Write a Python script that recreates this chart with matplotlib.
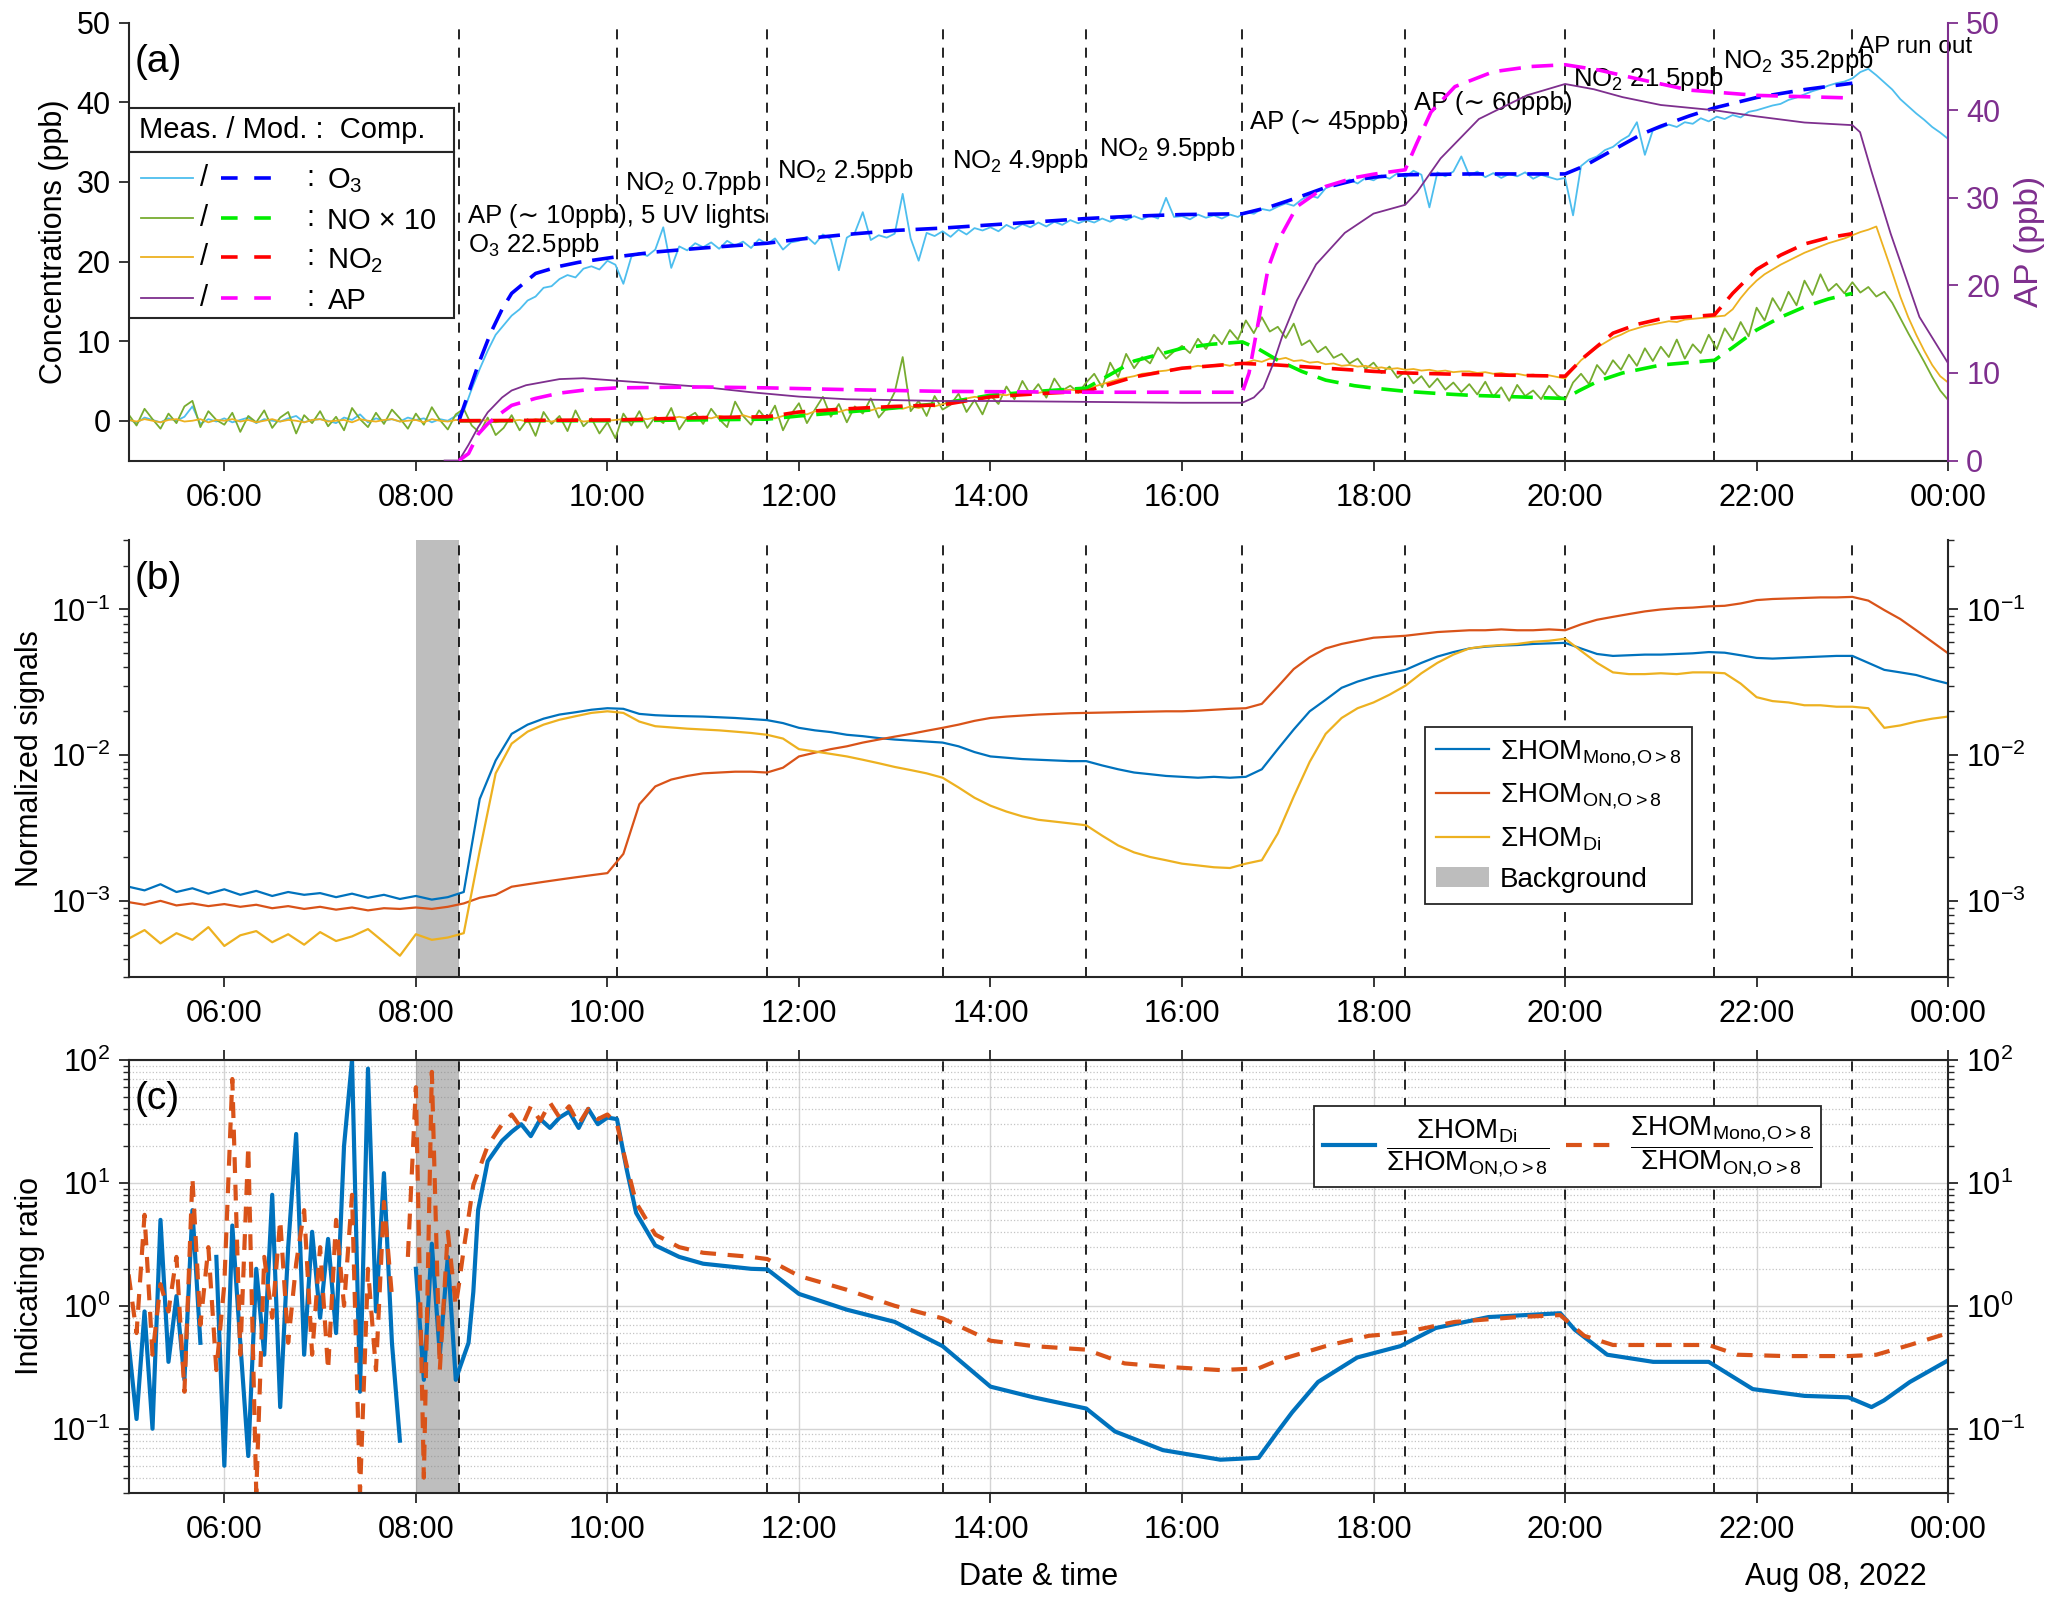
#!/usr/bin/env python3
"""Chamber experiment overview: gas-phase concentrations, HOM signals and ratios."""

import matplotlib

matplotlib.use("Agg")
import matplotlib.pyplot as plt
import numpy as np
from matplotlib.lines import Line2D
from matplotlib.patches import Patch, Rectangle
from matplotlib.ticker import FixedLocator, LogLocator, NullFormatter

plt.rcParams["font.family"] = ["Liberation Sans", "DejaVu Sans"]
plt.rcParams["mathtext.fontset"] = "custom"
plt.rcParams["mathtext.rm"] = "Liberation Sans"
plt.rcParams["mathtext.it"] = "Liberation Sans:italic"
plt.rcParams["mathtext.bf"] = "Liberation Sans:bold"
plt.rcParams["mathtext.default"] = "regular"

nan = np.nan

# time axis in hours of the day (5-min and 10-min sampling)
T5 = 5 + np.arange(229) / 12
T10 = 5 + np.arange(115) / 6

XTICKS = [6, 8, 10, 12, 14, 16, 18, 20, 22, 24]
XTICK_LABELS = ["06:00", "08:00", "10:00", "12:00", "14:00", "16:00",
                "18:00", "20:00", "22:00", "00:00"]
STAGE_TIMES = [8.45, 10.1, 11.67, 13.5, 15.0, 16.63, 18.33, 20.0, 21.56, 23.0]
BACKGROUND = (8.0, 8.45)

# ---- panel (a): measured (5-min) -------------------------------------------
o3_meas = [
    0.2, -0.3, 0.4, 0.1, -0.2, 0.3, 0.0, 0.5, 1.8, -0.4, 0.2, -0.1,
    0.3, -0.2, 0.1, 0.4, -0.3, 0.2, 0.0, -0.1, 0.3, 0.6, -0.2, 0.1,
    0.2, 0.0, -0.3, 0.4, 0.1, 0.8, -0.2, 0.3, 0.0, 0.2, -0.1, 0.4,
    0.1, 0.3, -0.2, 0.2, 0.0, 0.6, 1.2, 4.0, 6.5, 8.8, 10.8, 12.0,
    13.2, 14.0, 15.1, 15.6, 16.7, 16.9, 17.8, 18.3, 18.0, 19.1, 19.4, 19.0,
    20.1, 19.6, 17.2, 20.6, 21.1, 20.7, 21.5, 24.3, 19.2, 21.9, 21.4, 22.3,
    21.8, 22.4, 21.6, 22.6, 22.0, 22.5, 21.7, 22.8, 22.2, 22.9, 21.5, 22.4,
    22.6, 23.1, 22.2, 23.4, 22.8, 18.9, 23.0, 23.6, 26.2, 22.7, 23.3, 23.0,
    23.5, 28.5, 22.9, 20.1, 23.6, 23.2, 23.8, 23.1, 24.0, 23.4, 24.2, 23.9,
    24.3, 23.8, 24.6, 24.1, 24.7, 24.3, 24.9, 24.4, 25.0, 24.6, 25.2, 24.8,
    25.2, 24.9, 25.4, 25.0, 25.6, 25.2, 25.7, 25.3, 25.8, 25.4, 28.0, 25.6,
    25.7, 25.3, 25.9, 25.5, 25.8, 25.4, 25.9, 25.6, 26.2, 26.0, 26.6, 26.4,
    26.9, 27.3, 27.0, 27.8, 28.3, 28.0, 29.2, 29.6, 29.9, 30.3, 29.8, 30.5,
    30.2, 30.8, 30.4, 31.1, 30.6, 31.4, 30.9, 26.8, 31.2, 30.7, 31.3, 33.2,
    30.8, 31.3, 30.6, 31.1, 30.5, 31.0, 30.7, 31.2, 30.4, 30.9, 30.6, 30.3,
    30.5, 25.8, 32.0, 32.8, 33.2, 34.0, 34.4, 35.2, 35.8, 37.5, 33.4, 36.5,
    36.8, 37.2, 36.9, 37.5, 37.3, 38.0, 37.6, 38.2, 37.9, 38.4, 38.1, 38.8,
    39.0, 39.3, 39.6, 39.8, 40.3, 40.6, 41.0, 41.4, 41.7, 42.1, 42.4, 42.6,
    43.0, 43.8, 44.2, 43.4, 42.5, 41.6, 40.4, 39.5, 38.6, 37.8, 36.9, 36.2,
    35.4,
]
no_x10_meas = [
    0.8, -0.6, 1.5, 0.2, -1.0, 0.9, -0.3, 1.8, 2.5, -0.8, 1.2, 0.1,
    -0.5, 1.0, -1.4, 0.6, -0.2, 1.3, -0.9, 0.4, 1.1, -1.6, 0.7, -0.3,
    1.2, -0.7, 0.5, -1.2, 1.6, 0.2, -0.8, 1.0, -0.4, 1.4, 0.3, -1.0,
    0.9, -0.5, 1.7, 0.1, -1.1, 0.8, 1.5, -0.6, -1.5, 0.4, -1.8, -0.9,
    0.7, -1.2, 0.2, -1.9, 1.1, -0.4, 0.6, -1.3, 1.3, -0.7, 0.3, -1.6,
    -0.2, -2.2, 0.9, -0.6, 1.2, -0.9, 0.5, -0.3, 1.6, -1.1, 0.4, 1.0,
    -0.4, 1.5, 0.2, -0.8, 2.4, 0.6, -0.5, 1.3, 0.1, 1.9, -1.2, 0.8,
    2.2, -0.3, 1.4, 3.0, 0.5, 2.1, -0.2, 1.8, 0.9, 2.8, 0.4, 1.6,
    3.6, 8.0, 1.2, 2.5, 0.6, 3.1, 1.4, 2.0, 3.4, 1.1, 2.6, 0.8,
    3.2, 2.1, 4.3, 2.7, 5.0, 3.3, 4.6, 2.9, 5.3, 3.8, 4.4, 3.5,
    4.8, 5.9, 4.2, 7.3, 5.5, 8.4, 6.6, 8.0, 7.2, 9.2, 7.8, 8.7,
    9.4, 8.5, 10.3, 9.0, 10.8, 9.6, 11.4, 10.2, 12.6, 11.0, 13.0, 11.2,
    11.8, 10.4, 12.2, 9.5, 10.1, 8.6, 9.3, 7.9, 8.4, 7.2, 7.8, 6.5,
    7.3, 6.0, 6.8, 5.4, 6.2, 4.7, 5.6, 4.2, 5.3, 3.9, 4.8, 3.6,
    4.6, 3.3, 4.9, 3.0, 4.2, 2.5, 4.5, 3.1, 3.8, 2.7, 4.4, 3.2,
    2.6, 4.8, 5.9, 4.6, 7.0, 5.8, 7.6, 6.4, 8.3, 6.9, 9.1, 7.5,
    9.3, 8.0, 10.2, 7.8, 9.6, 8.5, 10.8, 9.0, 11.6, 10.1, 12.4, 10.6,
    14.2, 12.6, 15.4, 13.8, 16.2, 14.5, 17.6, 15.8, 18.4, 16.3, 17.2, 16.0,
    17.4, 16.1, 16.8, 15.6, 16.2, 14.8, 12.9, 11.0, 9.2, 7.4, 5.5, 3.8,
    2.6,
]
no2_meas = [
    0.1, -0.1, 0.2, 0.0, -0.2, 0.1, 0.2, -0.1, 0.0, 0.2, -0.2, 0.1,
    0.0, 0.2, -0.1, 0.1, -0.2, 0.0, 0.2, -0.1, 0.1, 0.0, -0.2, 0.1,
    0.2, -0.1, 0.0, 0.1, -0.2, 0.2, 0.0, -0.1, 0.1, 0.2, -0.1, 0.0,
    0.1, -0.2, 0.2, 0.0, -0.1, 0.1, 0.0, -0.1, 0.1, 0.0, -0.2, 0.1,
    0.0, 0.1, -0.1, 0.2, 0.0, -0.1, 0.1, 0.0, 0.2, -0.1, 0.0, 0.1,
    0.0, 0.1, 0.2, 0.1, 0.3, 0.2, 0.4, 0.2, 0.3, 0.5, 0.3, 0.4,
    0.5, 0.3, 0.6, 0.4, 0.5, 0.7, 0.4, 0.6, 0.5, 0.3, 0.6, 0.9,
    1.0, 0.8, 1.2, 1.0, 1.3, 1.1, 1.4, 1.2, 1.5, 1.3, 1.6, 1.4,
    1.7, 1.5, 1.8, 1.6, 1.9, 1.8, 2.1, 2.3, 2.6, 2.8, 3.0, 2.9,
    3.1, 3.3, 3.2, 3.5, 3.4, 3.6, 3.5, 3.7, 3.6, 3.8, 3.9, 3.8,
    4.0, 4.3, 4.6, 4.9, 5.2, 5.4, 5.6, 5.9, 6.0, 6.2, 6.3, 6.5,
    6.6, 6.7, 6.9, 6.8, 7.0, 7.1, 6.9, 7.2, 7.3, 7.6, 7.4, 7.8,
    7.7, 7.9, 7.5, 7.6, 7.3, 7.4, 7.1, 7.2, 6.9, 7.0, 6.8, 6.9,
    6.6, 6.7, 6.5, 6.6, 6.4, 6.5, 6.3, 6.4, 6.2, 6.3, 6.1, 6.2,
    6.2, 6.0, 6.1, 5.9, 6.0, 5.8, 5.9, 5.7, 5.8, 5.6, 5.7, 5.5,
    5.3, 6.5, 7.6, 8.4, 9.2, 9.8, 10.4, 10.8, 11.3, 11.6, 11.9, 12.1,
    12.3, 12.5, 12.4, 12.7, 12.8, 12.9, 13.0, 13.1, 13.2, 14.0, 15.4, 16.6,
    17.6, 18.4, 19.0, 19.6, 20.1, 20.6, 21.1, 21.5, 21.9, 22.3, 22.6, 22.9,
    23.3, 23.7, 24.0, 24.4, 21.5, 18.6, 15.6, 13.0, 10.8, 8.8, 7.0, 5.6,
    4.8,
]
ap_meas_t = [8.30, 8.45, 8.55, 8.65, 8.75, 8.9, 9.0, 9.15, 9.3, 9.5, 9.75, 10.0,
             10.25, 10.5, 10.75, 11.0, 11.5, 12.0, 12.5, 13.0, 13.5, 14.0, 15.0,
             16.0, 16.63, 16.75, 16.85, 16.95, 17.05, 17.2, 17.4, 17.7, 18.0,
             18.33, 18.45, 18.7, 19.1, 19.6, 20.0, 20.3, 20.6, 21.0, 21.56, 22.0,
             22.5, 23.0, 23.08, 23.2, 23.4, 23.7, 24.0]
ap_meas = [0, 0, 1.8, 3.8, 5.5, 7.2, 8.0, 8.6, 8.9, 9.3, 9.4, 9.2,
           9.0, 8.8, 8.6, 8.4, 7.8, 7.3, 7.0, 6.9, 6.8, 6.8, 6.7,
           6.6, 6.6, 7.2, 8.3, 11.0, 14.3, 18.3, 22.4, 26.0, 28.2,
           29.2, 30.6, 34.5, 39.0, 41.7, 43.0, 42.4, 41.5, 40.6, 40.0, 39.3,
           38.6, 38.3, 37.5, 33.0, 25.9, 16.4, 11.1]

# ---- panel (a): model ------------------------------------------------------
o3_mod_t = [8.45, 8.55, 8.65, 8.78, 8.9, 9.0, 9.25, 9.5, 9.7, 10.1, 10.5, 11.0,
            11.67, 12.0, 12.5, 13.0, 13.5, 14.0, 14.5, 15.0, 15.5, 16.0, 16.63,
            16.9, 17.2, 17.5, 17.8, 18.0, 18.33, 19.0, 20.0, 20.2, 20.5, 20.8,
            21.0, 21.3, 21.56, 22.0, 22.5, 23.0]
o3_mod = [0, 3.5, 7.0, 11.0, 14.0, 16.0, 18.5, 19.4, 19.9, 20.6, 21.2, 21.7,
          22.3, 22.8, 23.4, 23.9, 24.2, 24.6, 25.0, 25.4, 25.7, 25.9, 26.0,
          26.8, 28.0, 29.3, 30.2, 30.6, 30.9, 31.0, 31.0, 32.0, 34.0, 36.0,
          37.0, 38.3, 39.3, 40.6, 41.6, 42.4]
no_mod_t = [8.45, 10.1, 11.67, 12.0, 12.5, 13.0, 13.5, 14.0, 14.5, 15.0, 15.25,
            15.5, 16.0, 16.3, 16.63, 16.8, 17.0, 17.25, 17.5, 17.8, 18.0, 18.33,
            18.7, 19.0, 19.5, 20.0, 20.15, 20.35, 20.6, 21.0, 21.56, 21.75, 22.0,
            22.25, 22.5, 22.75, 23.0]
no_mod = [0, 0, 0.2, 0.6, 1.1, 1.6, 2.2, 3.2, 3.7, 4.1, 5.8,
          7.5, 9.1, 9.6, 9.9, 9.0, 7.6, 6.2, 5.1, 4.4, 4.1, 3.7,
          3.4, 3.2, 3.0, 2.8, 3.8, 5.0, 6.0, 7.0, 7.6, 9.2, 11.4,
          13.0, 14.3, 15.3, 16.0]
no2_mod_t = [8.45, 10.1, 11.0, 11.67, 12.0, 12.5, 13.0, 13.5, 14.0, 14.5, 15.0,
             15.5, 16.0, 16.63, 17.0, 17.5, 18.0, 18.33, 19.0, 20.0, 20.2, 20.5,
             20.75, 21.0, 21.56, 21.75, 22.0, 22.25, 22.5, 22.75, 23.0]
no2_mod = [0, 0.1, 0.4, 0.5, 1.1, 1.5, 1.8, 2.0, 3.0, 3.4, 3.7,
           5.5, 6.6, 7.2, 7.0, 6.6, 6.2, 6.0, 5.8, 5.6, 8.0, 11.0,
           12.1, 12.8, 13.3, 16.0, 19.0, 20.8, 22.2, 23.0, 23.5]
ap_mod_t = [8.45, 8.55, 8.65, 8.75, 8.85, 9.0, 9.25, 9.5, 9.8, 10.1, 11.0, 11.67,
            12.5, 13.5, 15.0, 16.63, 16.7, 16.8, 16.9, 17.0, 17.2, 17.5, 17.8,
            18.0, 18.33, 18.45, 18.6, 18.85, 19.25, 19.65, 20.0, 20.35, 20.75,
            21.3, 22.0, 23.0]
ap_mod = [0, 0.8, 3.0, 4.2, 5.1, 6.3, 7.1, 7.7, 8.1, 8.3, 8.4, 8.3,
          8.1, 7.9, 7.8, 7.8, 10.0, 16.0, 22.0, 25.0, 29.0, 31.3, 32.3,
          32.7, 33.2, 36.2, 39.8, 42.7, 44.4, 45.0, 45.2, 44.6, 43.6,
          42.3, 41.7, 41.4]

# text, x (h), baseline (ppb), font size
GAS_ANNOTATIONS = [
    ("AP (\u223c 10ppb), 5 UV lights", 8.54, 24.8, 18.5),
    ("O$_3$ 22.5ppb", 8.54, 21.2, 18.5),
    ("NO$_2$ 0.7ppb", 10.18, 29.0, 18.5),
    ("NO$_2$ 2.5ppb", 11.77, 30.5, 18.5),
    ("NO$_2$ 4.9ppb", 13.6, 31.7, 18.5),
    ("NO$_2$ 9.5ppb", 15.13, 33.2, 18.5),
    ("AP (\u223c 45ppb)", 16.71, 36.7, 18.5),
    ("AP (\u223c 60ppb)", 18.42, 39.0, 18.5),
    ("NO$_2$ 21.5ppb", 20.08, 42.0, 18.5),
    ("NO$_2$ 35.2ppb", 21.65, 44.3, 18.5),
    ("AP run out", 23.06, 46.2, 17.5),
]

# ---- panel (b): normalized HOM signals (10-min) ----------------------------
hom_mono = [
    1.25e-3, 1.18e-3, 1.30e-3, 1.15e-3, 1.22e-3, 1.12e-3,
    1.20e-3, 1.10e-3, 1.17e-3, 1.08e-3, 1.15e-3, 1.10e-3,
    1.13e-3, 1.06e-3, 1.12e-3, 1.05e-3, 1.10e-3, 1.03e-3,
    1.08e-3, 1.02e-3, 1.06e-3, 1.15e-3, 5.0e-3, 9.2e-3,
    1.40e-2, 1.62e-2, 1.78e-2, 1.90e-2, 1.97e-2, 2.05e-2,
    2.10e-2, 2.08e-2, 1.92e-2, 1.88e-2, 1.86e-2, 1.85e-2,
    1.84e-2, 1.82e-2, 1.80e-2, 1.77e-2, 1.74e-2, 1.66e-2,
    1.54e-2, 1.48e-2, 1.44e-2, 1.38e-2, 1.35e-2, 1.31e-2,
    1.28e-2, 1.26e-2, 1.24e-2, 1.22e-2, 1.15e-2, 1.05e-2,
    9.8e-3, 9.6e-3, 9.4e-3, 9.3e-3, 9.2e-3, 9.1e-3,
    9.1e-3, 8.5e-3, 8.0e-3, 7.6e-3, 7.4e-3, 7.2e-3,
    7.1e-3, 7.0e-3, 7.1e-3, 7.0e-3, 7.1e-3, 8.0e-3,
    1.1e-2, 1.5e-2, 2.0e-2, 2.4e-2, 2.9e-2, 3.2e-2,
    3.45e-2, 3.65e-2, 3.85e-2, 4.3e-2, 4.75e-2, 5.1e-2,
    5.4e-2, 5.55e-2, 5.65e-2, 5.7e-2, 5.8e-2, 5.85e-2,
    5.9e-2, 5.4e-2, 4.95e-2, 4.8e-2, 4.85e-2, 4.9e-2,
    4.9e-2, 4.95e-2, 5.0e-2, 5.1e-2, 5.05e-2, 4.85e-2,
    4.65e-2, 4.6e-2, 4.65e-2, 4.7e-2, 4.75e-2, 4.8e-2,
    4.8e-2, 4.3e-2, 3.85e-2, 3.7e-2, 3.55e-2, 3.3e-2,
    3.1e-2,
]
hom_on = [
    9.8e-4, 9.4e-4, 1.0e-3, 9.3e-4, 9.6e-4, 9.2e-4,
    9.5e-4, 9.1e-4, 9.4e-4, 8.9e-4, 9.2e-4, 8.8e-4,
    9.1e-4, 8.7e-4, 9.0e-4, 8.6e-4, 8.9e-4, 8.8e-4,
    9.0e-4, 8.8e-4, 9.1e-4, 9.6e-4, 1.05e-3, 1.1e-3,
    1.25e-3, 1.3e-3, 1.35e-3, 1.4e-3, 1.45e-3, 1.5e-3,
    1.55e-3, 2.1e-3, 4.6e-3, 6.1e-3, 6.8e-3, 7.2e-3,
    7.5e-3, 7.6e-3, 7.7e-3, 7.7e-3, 7.6e-3, 8.2e-3,
    9.8e-3, 1.04e-2, 1.1e-2, 1.15e-2, 1.22e-2, 1.28e-2,
    1.34e-2, 1.4e-2, 1.47e-2, 1.54e-2, 1.62e-2, 1.72e-2,
    1.8e-2, 1.84e-2, 1.87e-2, 1.9e-2, 1.92e-2, 1.94e-2,
    1.95e-2, 1.96e-2, 1.97e-2, 1.98e-2, 1.99e-2, 2.0e-2,
    2.0e-2, 2.02e-2, 2.05e-2, 2.08e-2, 2.1e-2, 2.25e-2,
    2.95e-2, 3.9e-2, 4.7e-2, 5.4e-2, 5.8e-2, 6.1e-2,
    6.4e-2, 6.5e-2, 6.6e-2, 6.8e-2, 7.0e-2, 7.1e-2,
    7.2e-2, 7.2e-2, 7.3e-2, 7.2e-2, 7.2e-2, 7.3e-2,
    7.2e-2, 7.9e-2, 8.5e-2, 8.9e-2, 9.3e-2, 9.7e-2,
    1.0e-1, 1.02e-1, 1.03e-1, 1.05e-1, 1.06e-1, 1.1e-1,
    1.16e-1, 1.18e-1, 1.19e-1, 1.2e-1, 1.21e-1, 1.21e-1,
    1.22e-1, 1.15e-1, 9.9e-2, 8.6e-2, 7.2e-2, 6.0e-2,
    5.0e-2,
]
hom_di = [
    5.5e-4, 6.3e-4, 5.1e-4, 6.0e-4, 5.4e-4, 6.6e-4,
    4.9e-4, 5.8e-4, 6.2e-4, 5.2e-4, 5.9e-4, 5.0e-4,
    6.1e-4, 5.3e-4, 5.7e-4, 6.4e-4, 5.2e-4, 4.2e-4,
    5.9e-4, 5.4e-4, 5.6e-4, 6.0e-4, 2.2e-3, 7.5e-3,
    1.2e-2, 1.45e-2, 1.62e-2, 1.75e-2, 1.85e-2, 1.95e-2,
    2.0e-2, 1.95e-2, 1.7e-2, 1.58e-2, 1.55e-2, 1.52e-2,
    1.5e-2, 1.48e-2, 1.45e-2, 1.42e-2, 1.38e-2, 1.3e-2,
    1.1e-2, 1.06e-2, 1.02e-2, 9.8e-3, 9.3e-3, 8.8e-3,
    8.3e-3, 7.9e-3, 7.5e-3, 7.0e-3, 6.0e-3, 5.1e-3,
    4.5e-3, 4.1e-3, 3.8e-3, 3.6e-3, 3.5e-3, 3.4e-3,
    3.3e-3, 2.8e-3, 2.4e-3, 2.15e-3, 2.0e-3, 1.9e-3,
    1.8e-3, 1.75e-3, 1.7e-3, 1.68e-3, 1.8e-3, 1.9e-3,
    2.9e-3, 5.2e-3, 9.0e-3, 1.4e-2, 1.8e-2, 2.1e-2,
    2.3e-2, 2.6e-2, 3.0e-2, 3.65e-2, 4.3e-2, 4.9e-2,
    5.4e-2, 5.6e-2, 5.7e-2, 5.8e-2, 6.0e-2, 6.1e-2,
    6.3e-2, 5.2e-2, 4.3e-2, 3.7e-2, 3.6e-2, 3.6e-2,
    3.65e-2, 3.6e-2, 3.7e-2, 3.7e-2, 3.65e-2, 3.1e-2,
    2.5e-2, 2.35e-2, 2.3e-2, 2.2e-2, 2.2e-2, 2.15e-2,
    2.15e-2, 2.1e-2, 1.54e-2, 1.6e-2, 1.7e-2, 1.78e-2,
    1.84e-2,
]

# ---- panel (c): indicating ratios ------------------------------------------
# 05:00-08:25 on the 5-min grid, then readings from 08:27 onwards
di_on_early = [
    0.5, 0.12, 0.9, 0.1, 5.0, 0.35, 1.2, 0.25, 6.0, 0.5, nan, 2.5,
    0.05, 4.5, 0.5, 0.06, 2.0, 0.4, 8.0, 0.15, 3.0, 25.0, 0.4, 4.0,
    0.8, 3.5, 0.6, 20.0, 100.0, 0.2, 85.0, 0.9, 12.0, 0.5, 0.08, nan,
    2.0, 0.25, 3.2, 0.4, 2.5, 0.25,
]
mono_on_early = [
    1.8, 0.6, 5.5, 0.4, 1.5, 0.9, 2.5, 0.2, 11.0, 0.7, 3.0, 0.3,
    1.5, 70.0, 0.4, 20.0, 0.03, 2.5, 0.8, 5.0, 0.5, 2.2, 6.0, 0.4,
    3.0, 0.3, 5.0, 1.0, 8.0, 0.03, 2.0, 0.3, 7.0, 1.2, nan, 2.5,
    60.0, 0.04, 80.0, 0.3, 4.0, 1.0,
]
di_on_t = [8.45, 8.55, 8.6, 8.65, 8.75, 8.9, 9.0, 9.1, 9.2, 9.3, 9.4, 9.5, 9.6,
           9.7, 9.8, 9.9, 10.0, 10.1, 10.2, 10.3, 10.5, 10.75, 11.0, 11.5, 11.67,
           12.0, 12.5, 13.0, 13.5, 14.0, 14.45, 15.0, 15.3, 15.8, 16.4, 16.8,
           17.0, 17.15, 17.42, 17.83, 18.28, 18.65, 19.2, 19.95, 20.1, 20.44,
           20.92, 21.5, 21.96, 22.5, 22.96, 23.2, 23.33, 23.6, 24.0]
di_on = [0.3, 0.5, 1.3, 6.0, 15.0, 22.0, 26.0, 30.0, 24.0, 33.0, 28.0, 34.0, 38.0,
         28.0, 40.0, 30.0, 34.0, 33.0, 13.0, 5.7, 3.1, 2.5, 2.2, 2.0, 1.98,
         1.25, 0.93, 0.74, 0.47, 0.22, 0.18, 0.146, 0.095, 0.067, 0.056, 0.058,
         0.095, 0.136, 0.24, 0.38, 0.47, 0.66, 0.81, 0.87, 0.64, 0.40,
         0.35, 0.35, 0.21, 0.185, 0.18, 0.15, 0.17, 0.24, 0.36]
mono_on_t = [8.45, 8.5, 8.6, 8.75, 8.9, 9.0, 9.1, 9.2, 9.3, 9.4, 9.5, 9.6, 9.7,
             9.8, 9.9, 10.0, 10.1, 10.2, 10.3, 10.5, 10.75, 11.0, 11.5, 11.67,
             12.0, 12.5, 13.0, 13.5, 14.0, 14.45, 15.0, 15.4, 15.8, 16.4, 16.8,
             17.0, 17.5, 17.95, 18.28, 18.85, 19.5, 19.95, 20.2, 20.5, 21.2,
             21.5, 21.8, 22.3, 22.96, 23.25, 23.6, 24.0]
mono_on = [1.5, 2.9, 9.6, 20.0, 30.0, 36.0, 28.0, 42.0, 32.0, 45.0, 34.0, 42.0, 30.0,
           40.0, 33.0, 36.0, 30.0, 14.0, 6.9, 3.8, 3.0, 2.7, 2.5, 2.4,
           1.75, 1.35, 1.0, 0.79, 0.52, 0.47, 0.44, 0.34, 0.32, 0.30, 0.31,
           0.36, 0.47, 0.57, 0.60, 0.74, 0.81, 0.84, 0.57, 0.48, 0.48,
           0.48, 0.40, 0.39, 0.39, 0.40, 0.48, 0.60]

AXIS_COLOR = "#262626"
C_O3, C_O3_MOD = "#4DBEEE", "#0000FF"
C_NO, C_NO_MOD = "#77AC30", "#00EE00"
C_NO2, C_NO2_MOD = "#EDB120", "#FF0000"
C_AP, C_AP_MOD = "#7E2F8E", "#FF00FF"
C_BLUE, C_ORANGE, C_YELLOW = "#0072BD", "#D95319", "#EDB120"
MOD_DASH = (6, 3)
RATIO_DASH = (3.8, 2.8)
FS = 22


def style_axis(ax):
    ax.set_xlim(5, 24)
    ax.set_xticks(XTICKS, XTICK_LABELS)
    ax.tick_params(axis="x", labelsize=FS, length=7, width=1.3, pad=9, color=AXIS_COLOR)
    ax.tick_params(axis="y", which="major", labelsize=FS, length=7, width=1.3, pad=6,
                   color=AXIS_COLOR)
    ax.tick_params(axis="y", which="minor", length=4, width=1.0, color=AXIS_COLOR)
    for spine in ax.spines.values():
        spine.set_linewidth(1.5)
        spine.set_color(AXIS_COLOR)
    for x in STAGE_TIMES:
        ax.axvline(x, color="k", lw=1.2, dashes=(6, 5), zorder=1.8)


def draw_gas_legend(ax):
    tr = ax.transAxes
    ax.add_patch(Rectangle((0.0005, 0.705), 0.1785, 0.100, transform=tr, fc="white",
                           ec=AXIS_COLOR, lw=1.5, zorder=5))
    ax.add_patch(Rectangle((0.0005, 0.3255), 0.1785, 0.3795, transform=tr, fc="white",
                           ec=AXIS_COLOR, lw=1.5, zorder=5))
    ax.text(0.0055, 0.754, "Meas. / Mod. :  Comp.", transform=tr, fontsize=21,
            va="center", zorder=6)
    rows = [
        (0.646, C_O3, C_O3_MOD, "O$_3$"),
        (0.555, C_NO, C_NO_MOD, "NO \u00d7 10"),
        (0.464, C_NO2, C_NO2_MOD, "NO$_2$"),
        (0.372, C_AP, C_AP_MOD, "AP"),
    ]
    for y, c_meas, c_mod, label in rows:
        ax.add_line(Line2D([0.0067, 0.0356], [y, y], transform=tr, color=c_meas,
                           lw=1.3, zorder=6))
        ax.text(0.0395, y, "/", transform=tr, fontsize=21, va="center", zorder=6)
        ax.add_line(Line2D([0.0509, 0.0803], [y, y], transform=tr, color=c_mod,
                           lw=2.6, dashes=(4.6, 4.6), zorder=6))
        ax.text(0.0975, y, ":", transform=tr, fontsize=21, va="center", zorder=6)
        ax.text(0.1093, y, label, transform=tr, fontsize=21, va="center_baseline",
                zorder=6)


fig = plt.figure(figsize=(20.67, 15.98), dpi=100)
LEFT, WIDTH = 0.0622, 0.8803
ax_a = fig.add_axes([LEFT, 0.7118, WIDTH, 0.2740])
ax_b = fig.add_axes([LEFT, 0.3886, WIDTH, 0.2735])
ax_c = fig.add_axes([LEFT, 0.0657, WIDTH, 0.2710])

# ---------------- (a) ----------------
style_axis(ax_a)
ax_a.plot(T5, o3_meas, color=C_O3, lw=1.3, zorder=2)
ax_a.plot(T5, no_x10_meas, color=C_NO, lw=1.3, zorder=2)
ax_a.plot(T5, no2_meas, color=C_NO2, lw=1.3, zorder=2.1)
ax_a.plot(o3_mod_t, o3_mod, color=C_O3_MOD, lw=2.6, dashes=MOD_DASH, zorder=2.2)
ax_a.plot(no_mod_t, no_mod, color=C_NO_MOD, lw=2.6, dashes=MOD_DASH, zorder=2.2)
ax_a.plot(no2_mod_t, no2_mod, color=C_NO2_MOD, lw=2.6, dashes=MOD_DASH, zorder=2.3)
ax_a.set_ylim(-5, 50)
ax_a.set_yticks(range(0, 51, 10))
ax_a.spines["top"].set_visible(False)
ax_a.spines["right"].set_visible(False)
ax_a.set_ylabel("Concentrations (ppb)", fontsize=FS)
ax_a.yaxis.set_label_coords(-0.033, 0.5)
for text, x, y, size in GAS_ANNOTATIONS:
    ax_a.text(x, y, text, fontsize=size, va="baseline", zorder=4)

ax_ap = ax_a.twinx()
ax_ap.plot(ap_meas_t, ap_meas, color=C_AP, lw=1.3, zorder=2)
ax_ap.plot(ap_mod_t, ap_mod, color=C_AP_MOD, lw=2.6, dashes=MOD_DASH, zorder=2.1)
ax_ap.set_ylim(0, 50)
ax_ap.set_yticks(range(0, 51, 10))
ax_ap.tick_params(axis="y", colors=C_AP, labelsize=FS, length=7, width=1.3, pad=6)
for side in ["top", "left", "bottom"]:
    ax_ap.spines[side].set_visible(False)
ax_ap.spines["right"].set_color(C_AP)
ax_ap.spines["right"].set_linewidth(1.5)
ax_ap.set_ylabel("AP (ppb)", color=C_AP, fontsize=24, labelpad=10)
draw_gas_legend(ax_ap)
ax_a.text(0.0036, 0.91, "(a)", transform=ax_a.transAxes, fontsize=28, va="center")

# ---------------- (b) ----------------
ax_b.set_yscale("log")
style_axis(ax_b)
ax_b.axvspan(*BACKGROUND, color="#7f7f7f", alpha=0.5, lw=0, zorder=1.5)
ax_b.plot(T10, hom_mono, color=C_BLUE, lw=1.6, zorder=2)
ax_b.plot(T10, hom_on, color=C_ORANGE, lw=1.6, zorder=2)
ax_b.plot(T10, hom_di, color=C_YELLOW, lw=1.6, zorder=2.1)
ax_b.set_ylim(3e-4, 0.3)
ax_b.yaxis.set_major_locator(FixedLocator([1e-3, 1e-2, 1e-1]))
ax_b.yaxis.set_minor_locator(LogLocator(base=10, subs=np.arange(2, 10)))
ax_b.yaxis.set_minor_formatter(NullFormatter())
ax_b.tick_params(axis="y", which="both", right=True, labelright=True)
ax_b.spines["top"].set_visible(False)
ax_b.set_ylabel("Normalized signals", fontsize=FS)
ax_b.yaxis.set_label_coords(-0.046, 0.5)
handles_b = [
    Line2D([], [], color=C_BLUE, lw=1.6),
    Line2D([], [], color=C_ORANGE, lw=1.6),
    Line2D([], [], color=C_YELLOW, lw=1.6),
    Patch(facecolor="#bdbdbd", edgecolor="none"),
]
labels_b = [r"$\Sigma$HOM$_{Mono{,}O>8}$", r"$\Sigma$HOM$_{ON{,}O>8}$",
            r"$\Sigma$HOM$_{Di}$", "Background"]
leg_b = ax_b.legend(handles_b, labels_b, loc="upper left", bbox_to_anchor=(0.7126, 0.572),
                    borderaxespad=0, fontsize=20, frameon=True, fancybox=False,
                    edgecolor=AXIS_COLOR, framealpha=1, handlelength=1.9,
                    handletextpad=0.4, labelspacing=0.5, borderpad=0.4)
leg_b.get_frame().set_linewidth(1.3)
ax_b.text(0.0036, 0.91, "(b)", transform=ax_b.transAxes, fontsize=28, va="center")

# ---------------- (c) ----------------
ax_c.set_yscale("log")
style_axis(ax_c)
ax_c.set_axisbelow(True)
ax_c.grid(True, which="major", axis="both", color="#d4d4d4", lw=1.0)
ax_c.grid(True, which="minor", axis="y", color="#c4c4c4", lw=0.9, ls=":")
ax_c.axvspan(*BACKGROUND, color="#7f7f7f", alpha=0.5, lw=0, zorder=1.5)
t_ratio_early = T5[:42]
ax_c.plot(np.concatenate([t_ratio_early, di_on_t]), di_on_early + di_on,
          color=C_BLUE, lw=3.0, zorder=2)
ax_c.plot(np.concatenate([t_ratio_early, mono_on_t]), mono_on_early + mono_on,
          color=C_ORANGE, lw=3.0, dashes=RATIO_DASH, zorder=2.1)
ax_c.set_ylim(0.03, 100)
ax_c.yaxis.set_major_locator(FixedLocator([0.1, 1, 10, 100]))
ax_c.yaxis.set_minor_locator(LogLocator(base=10, subs=np.arange(2, 10)))
ax_c.yaxis.set_minor_formatter(NullFormatter())
ax_c.tick_params(axis="y", which="both", right=True, labelright=True)
ax_c.tick_params(axis="x", top=True)
ax_c.set_ylabel("Indicating ratio", fontsize=FS)
ax_c.yaxis.set_label_coords(-0.046, 0.5)
ax_c.text(0.5, -0.194, "Date & time", transform=ax_c.transAxes, fontsize=FS,
          ha="center", va="center")
ax_c.text(0.988, -0.194, "Aug 08, 2022", transform=ax_c.transAxes, fontsize=FS,
          ha="right", va="center")
handles_c = [Line2D([], [], color=C_BLUE, lw=3.0),
             Line2D([], [], color=C_ORANGE, lw=3.0, dashes=RATIO_DASH)]
labels_c = [r"$\dfrac{\Sigma HOM_{Di}}{\Sigma HOM_{ON{,}O>8}}$",
            r"$\dfrac{\Sigma HOM_{Mono{,}O>8}}{\Sigma HOM_{ON{,}O>8}}$"]
leg_c = ax_c.legend(handles_c, labels_c, loc="upper left", bbox_to_anchor=(0.6516, 0.894),
                    borderaxespad=0, ncol=2, fontsize=20, frameon=True, fancybox=False,
                    edgecolor=AXIS_COLOR, framealpha=1, handlelength=1.9,
                    handletextpad=0.4, columnspacing=0.6, borderpad=0.3)
leg_c.get_frame().set_linewidth(1.3)
ax_c.text(0.0036, 0.91, "(c)", transform=ax_c.transAxes, fontsize=28, va="center")

fig.savefig("out.png", dpi=100, facecolor="white")
